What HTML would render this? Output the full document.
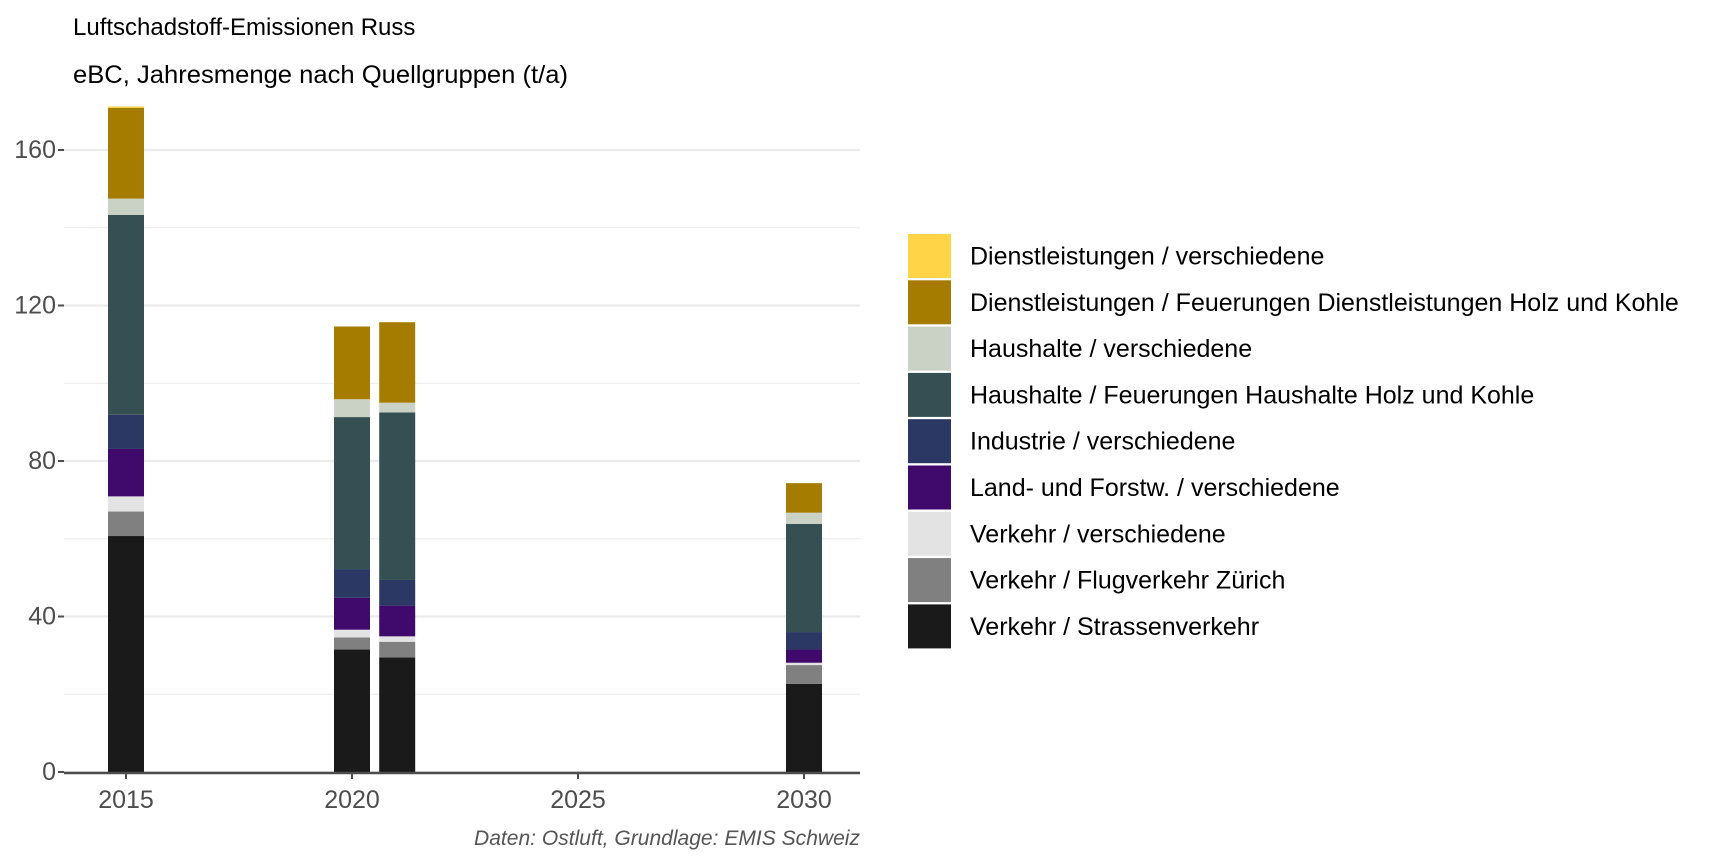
<!DOCTYPE html>
<html><head><meta charset="utf-8"><style>
html,body{margin:0;padding:0;background:#fff;}
svg{display:block;font-family:"Liberation Sans",Arial,sans-serif;}
</style></head><body>
<svg id="chart" width="1728" height="864" viewBox="0 0 1728 864">
<text x="73" y="35" font-size="24" fill="#000">Luftschadstoff-Emissionen Russ</text>
<text x="73" y="83" font-size="25" textLength="495" lengthAdjust="spacingAndGlyphs" fill="#000">eBC, Jahresmenge nach Quellgruppen (t/a)</text>
<g id="grid"></g>
<g id="bars"></g>
<g id="axes"></g>
<g id="legend"></g>
<text x="860" y="845" font-size="21" font-style="italic" fill="#555" text-anchor="end" textLength="386" lengthAdjust="spacingAndGlyphs">Daten: Ostluft, Grundlage: EMIS Schweiz</text>
</svg>
<script>
const years = [2015, 2020, 2021, 2030];
const categories = ["Verkehr / Strassenverkehr","Verkehr / Flugverkehr Zürich","Verkehr / verschiedene","Land- und Forstw. / verschiedene","Industrie / verschiedene","Haushalte / Feuerungen Haushalte Holz und Kohle","Haushalte / verschiedene","Dienstleistungen / Feuerungen Dienstleistungen Holz und Kohle","Dienstleistungen / verschiedene"];
const colors = ["#1a1a1a","#808080","#e3e3e3","#3f0a6b","#2a3863","#354f52","#cad2c5","#a67c00","#ffd447"];
const strassen = [60.7, 31.5, 29.5, 22.7];
const flug = [6.3, 3.1, 4.0, 4.8];
const verkehrVersch = [3.9, 2.0, 1.4, 0.6];
const landForst = [12.2, 8.2, 7.9, 3.4];
const industrie = [8.8, 7.4, 6.6, 4.5];
const hhFeuerung = [51.4, 39.1, 43.1, 27.8];
const hhVersch = [4.2, 4.6, 2.5, 2.9];
const dlFeuerung = [23.3, 18.7, 20.7, 7.6];
const dlVersch = [0.4, 0.0, 0.0, 0.0];
const series = [strassen, flug, verkehrVersch, landForst, industrie, hhFeuerung, hhVersch, dlFeuerung, dlVersch];
const yTicks = [0, 40, 80, 120, 160];
const yMinor = [20, 60, 100, 140];
const xTicks = [2015, 2020, 2025, 2030];

const NS = "http://www.w3.org/2000/svg";
const X0 = 64, X1 = 860;
const y = v => 772 - v * 3.8875;
const x = yr => 126 + (yr - 2015) * 45.2;
const barW = 36;
function mk(tag, attrs, parent){const e=document.createElementNS(NS,tag);for(const k in attrs)e.setAttribute(k,attrs[k]);parent.appendChild(e);return e;}
const grid=document.getElementById('grid'), bars=document.getElementById('bars'), axes=document.getElementById('axes'), legend=document.getElementById('legend');
yMinor.forEach(v=>{const l=mk('line',{x1:X0,x2:X1,y1:y(v),y2:y(v),stroke:'#ebebeb','stroke-width':1},grid);

});
yTicks.forEach(v=>{const l=mk('line',{x1:X0,x2:X1,y1:y(v),y2:y(v),stroke:'#ebebeb','stroke-width':2.2},grid);


const t=mk('line',{x1:X0-6,x2:X0,y1:y(v),y2:y(v),stroke:'#4d4d4d','stroke-width':2},axes);


const tx=mk('text',{x:X0-8,y:y(v)+8,'font-size':25,fill:'#4d4d4d','text-anchor':'end'},axes);tx.textContent=v;

});
years.forEach((yr,i)=>{let cum=0;series.forEach((s,k)=>{const v=s[i];if(v<=0){return;}
const r=mk('rect',{x:x(yr)-barW/2,y:y(cum+v),width:barW,height:y(cum)-y(cum+v),fill:colors[k]},bars);

cum+=v;});});
const ax=mk('line',{x1:X0,x2:X1,y1:773,y2:773,stroke:'#4d4d4d','stroke-width':2.5},axes);


xTicks.forEach(yr=>{const t=mk('line',{x1:x(yr),x2:x(yr),y1:773,y2:779,stroke:'#4d4d4d','stroke-width':2},axes);


const tx=mk('text',{x:x(yr),y:808,'font-size':25,fill:'#4d4d4d','text-anchor':'middle'},axes);tx.textContent=yr;

});
for(let k=categories.length-1,row=0;k>=0;k--,row++){const cy=256+row*46.3;
const g=mk('g',{},legend);


mk('rect',{x:908,y:cy-22,width:43,height:44,fill:colors[k]},g);
const t=mk('text',{x:970,y:cy+8.5,'font-size':25,fill:'#000'},g);t.textContent=categories[k];}
</script>
</body></html>
